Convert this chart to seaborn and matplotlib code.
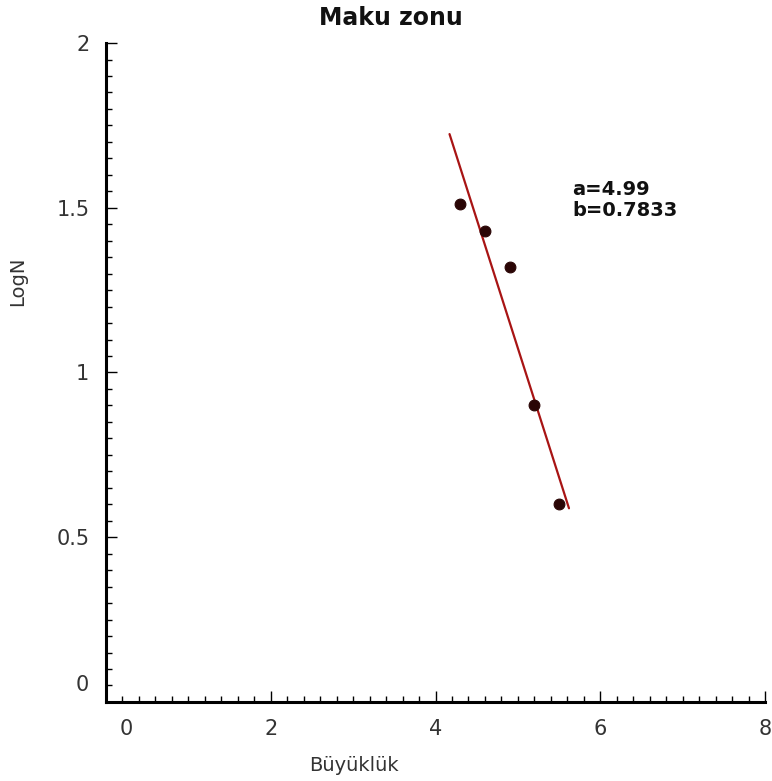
import numpy as np
import pandas as pd
import matplotlib
matplotlib.use("Agg")
import matplotlib.pyplot as plt
import matplotlib.transforms as mtransforms
from matplotlib.ticker import MultipleLocator
import seaborn as sns

# Magnitude vs cumulative log-count for the Maku zone
magnitude = [4.3, 4.6, 4.9, 5.2, 5.5]
log_n = [1.51, 1.43, 1.32, 0.90, 0.60]

# Gutenberg-Richter fit: log N = a - b * M
a_value = 4.99
b_value = 0.7833
fit_range = [4.17, 5.62]

x_ticks = [0, 2, 4, 6, 8]
y_ticks = [0, 0.5, 1, 1.5, 2]

sns.set_theme(style="white")
plt.rcParams["font.family"] = ["DejaVu Sans"]

fig = plt.figure(figsize=(7.72, 7.81), dpi=100)
ax = fig.add_axes([0.1373, 0.1012, 0.8537, 0.8437])

points = pd.DataFrame({"M": magnitude, "logN": log_n})
fit_x = np.array(fit_range)
fit = pd.DataFrame({"M": fit_x, "logN": a_value - b_value * fit_x})

sns.lineplot(data=fit, x="M", y="logN", ax=ax, color="#a81414", linewidth=1.6)
sns.scatterplot(data=points, x="M", y="logN", ax=ax, color="#2a0505",
                s=60, marker="o", edgecolor="#2a0505", linewidth=0.8, zorder=5)

ax.set_xlim(0, 8)
ax.set_ylim(0, 2)
ax.set_xticks(x_ticks)
ax.set_yticks(y_ticks)
ax.set_xticklabels([str(v) for v in x_ticks])
ax.set_yticklabels([f"{v:g}" for v in y_ticks])
ax.xaxis.set_minor_locator(MultipleLocator(0.2))
ax.yaxis.set_minor_locator(MultipleLocator(0.05))

for side in ("top", "right"):
    ax.spines[side].set_visible(False)
for side in ("left", "bottom"):
    ax.spines[side].set_color("black")
    ax.spines[side].set_linewidth(2.2)

ax.tick_params(axis="both", which="major", direction="in", length=8, width=1.0,
               color="black", labelsize=15, labelcolor="#333333", pad=12)
ax.tick_params(axis="both", which="minor", direction="in", length=4, width=1.0,
               color="black")
ax.tick_params(axis="x", which="both", bottom=True, top=False)
ax.tick_params(axis="y", which="both", left=True, right=False)

# nudge the zero labels away from the corner
xl0 = ax.get_xticklabels()[0]
xl0.set_transform(xl0.get_transform() + mtransforms.ScaledTranslation(20 / 100, 0, fig.dpi_scale_trans))
yl0 = ax.get_yticklabels()[0]
yl0.set_transform(yl0.get_transform() + mtransforms.ScaledTranslation(0, 19 / 100, fig.dpi_scale_trans))

ax.set_xlabel("Büyüklük", fontsize=14, color="#333333")
ax.set_ylabel("LogN", fontsize=14, color="#333333")
ax.xaxis.set_label_coords(0.376, -0.082)
ax.yaxis.set_label_coords(-0.12, 0.639)

fig.text(391 / 772, 1 - 18 / 781, "Maku zonu", fontsize=17, fontweight="bold",
         ha="center", va="center", color="#111111")

ax.text(5.66, 1.524, f"a={a_value:g}\nb={b_value:g}", fontsize=14, fontweight="bold",
        ha="left", va="center", linespacing=1.1, color="#111111")

fig.savefig("out.png", dpi=100)
